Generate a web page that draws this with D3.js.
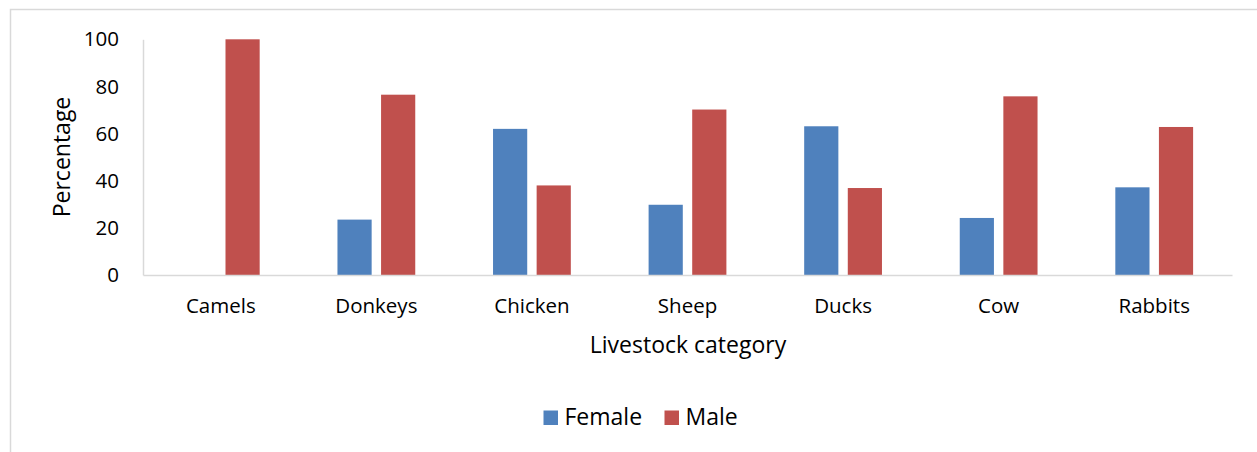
<!DOCTYPE html>
<html>
<head>
<meta charset="utf-8">
<script src="https://cdn.jsdelivr.net/npm/d3@7"></script>
<style>
  html, body { margin: 0; padding: 0; background: #fff; }
  svg { display: block; font-family: "Open Sans", "Noto Sans", sans-serif; }
</style>
</head>
<body>
<svg id="chart" width="1257" height="452"></svg>
<script>
const categories = ["Camels", "Donkeys", "Chicken", "Sheep", "Ducks", "Cow", "Rabbits"];
const seriesNames = ["Female", "Male"];
const femaleValues = [0, 23.5, 62, 29.8, 63.1, 24.2, 37.2];
const maleValues = [100, 76.5, 38, 70.2, 36.9, 75.8, 62.8];
const yTicks = [0, 20, 40, 60, 80, 100];
const colors = ["#4F81BD", "#C0504D"];
const xTitle = "Livestock category";
const yTitle = "Percentage";

(function () {
const svg = d3.select("#chart");

// outer frame
svg.append("rect")
  .attr("x", 10.5).attr("y", 9.5)
  .attr("width", 1260).attr("height", 460)
  .attr("fill", "#fff").attr("stroke", "#D9D9D9").attr("stroke-width", 1.5);

const pLeft = 143, pRight = 1232, pTop = 39.3, pBottom = 275;

const x0 = d3.scaleBand().domain(categories).range([pLeft, pRight])
  .paddingInner(0.5).paddingOuter(0.25);
const x1 = d3.scaleBand().domain(seriesNames).range([0, x0.bandwidth()])
  .paddingInner(0.216);
const y = d3.scaleLinear().domain([0, 100]).range([pBottom, pTop]);

const seriesValues = [femaleValues, maleValues];
const rows = categories.map((c, i) => ({ cat: c, vals: seriesNames.map((s, j) => ({ s, j, v: seriesValues[j][i] })) }));

const g = svg.append("g");
g.selectAll("g.cat").data(rows).join("g")
  .attr("class", "cat")
  .attr("transform", d => `translate(${x0(d.cat)},0)`)
  .selectAll("rect").data(d => d.vals.filter(v => v.v > 0)).join("rect")
  .attr("x", d => x1(d.s))
  .attr("width", x1.bandwidth())
  .attr("y", d => y(d.v))
  .attr("height", d => y(0) - y(d.v))
  .attr("fill", d => colors[d.j]);

// y axis
const yAxis = d3.axisLeft(y).tickValues(yTicks).tickSize(0).tickPadding(24).tickFormat(d3.format("d"));
const yg = svg.append("g").attr("transform", `translate(${pLeft},0)`).call(yAxis);
yg.select(".domain").attr("stroke", "#D9D9D9").attr("stroke-width", 1.5);
yg.selectAll("text").attr("font-size", 20.5).attr("fill", "#000")
  .attr("font-family", "'Open Sans', sans-serif");

// x axis
const xAxis = d3.axisBottom(x0).tickSize(0).tickPadding(23);
const xg = svg.append("g").attr("transform", `translate(0,${pBottom})`).call(xAxis);
xg.select(".domain").attr("stroke", "#D9D9D9").attr("stroke-width", 1.5);
xg.selectAll("text").attr("font-size", 20.5).attr("fill", "#000")
  .attr("font-family", "'Open Sans', sans-serif");

// titles
svg.append("text").attr("x", 688).attr("y", 353)
  .attr("text-anchor", "middle").attr("font-size", 23).attr("fill", "#000")
  .text(xTitle);
svg.append("text")
  .attr("transform", "translate(70,157) rotate(-90)")
  .attr("text-anchor", "middle").attr("font-size", 23).attr("fill", "#000")
  .text(yTitle);

// legend
const legend = svg.append("g");
const legendX = [543.5, 664.5];
seriesNames.forEach((s, i) => {
  legend.append("rect").attr("x", legendX[i]).attr("y", 410.5)
    .attr("width", 14.5).attr("height", 14.5).attr("fill", colors[i]);
  legend.append("text").attr("x", legendX[i] + 21).attr("y", 425)
    .attr("font-size", 23).attr("fill", "#000").text(s);
});
})();
</script>
</body>
</html>
